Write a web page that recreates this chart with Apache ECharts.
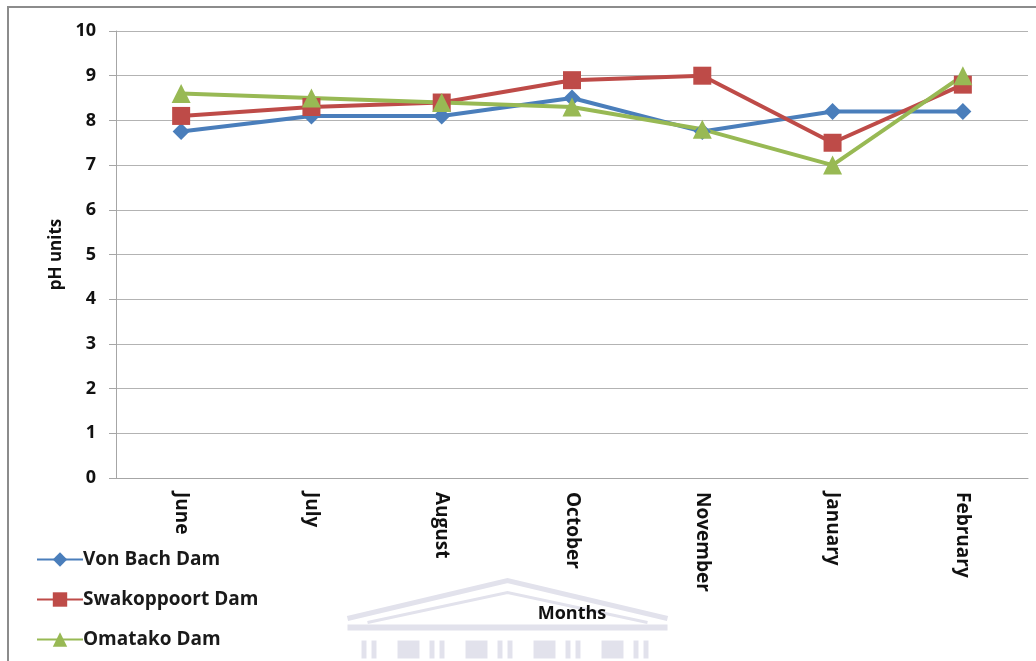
<!DOCTYPE html>
<html>
<head>
<meta charset="utf-8">
<script src="https://cdn.jsdelivr.net/npm/echarts@6/dist/echarts.min.js"></script>
<style>
  html, body { margin: 0; padding: 0; background: #fff; }
  #chart { width: 1036px; height: 661px; }
</style>
</head>
<body>
<div id="chart"></div>
<script>
// Monthly pH readings at three dams
const months = ['June', 'July', 'August', 'October', 'November', 'January', 'February'];
const vonBach = [7.75, 8.1, 8.1, 8.5, 7.75, 8.2, 8.2];
const swakoppoort = [8.1, 8.3, 8.4, 8.9, 9.0, 7.5, 8.8];
const omatako = [8.6, 8.5, 8.4, 8.3, 7.8, 7.0, 9.0];
const yTicks = { min: 0, max: 10, interval: 1 };

const FONT = '"Open Sans", Lato, sans-serif';

function lineSeries(name, data, color, symbol, size) {
  return {
    name, type: 'line', data,
    symbol, symbolSize: size,
    lineStyle: { width: 4, color },
    itemStyle: { color },
    emphasis: { disabled: true },
    z: 3
  };
}

const chart = echarts.init(document.getElementById('chart'), null, { renderer: 'canvas' });
chart.setOption({
  animation: false,
  backgroundColor: '#fff',
  grid: { left: 116, right: 8, top: 31, bottom: 183, containLabel: false },
  legend: {
    orient: 'vertical',
    left: 31, top: 543,
    itemGap: 17, itemWidth: 46, itemHeight: 18,
    textStyle: { fontFamily: FONT, fontWeight: 'bold', fontSize: 19, lineHeight: 23, color: '#1a1a1a', padding: [0, 0, 0, -5] },
    data: ['Von Bach Dam', 'Swakoppoort Dam', 'Omatako Dam']
  },
  xAxis: {
    type: 'category',
    data: months,
    boundaryGap: true,
    axisLine: { show: true, lineStyle: { color: '#a6a6a6', width: 1 } },
    axisTick: { show: false },
    axisLabel: { rotate: -90, margin: 14, fontFamily: FONT, fontWeight: 'bold', fontSize: 19, color: '#111' },
    name: 'Months',
    nameLocation: 'middle',
    nameGap: 127,
    nameTextStyle: { fontFamily: FONT, fontWeight: 'bold', fontSize: 18, color: '#111' }
  },
  yAxis: {
    type: 'value',
    min: yTicks.min, max: yTicks.max, interval: yTicks.interval,
    axisLine: { show: true, lineStyle: { color: '#a6a6a6', width: 1 } },
    axisTick: { show: true, length: 7, lineStyle: { color: '#a6a6a6' } },
    splitLine: { show: true, lineStyle: { color: '#b3b3b3', width: 1 } },
    axisLabel: { margin: 20, fontFamily: FONT, fontWeight: 'bold', fontSize: 18, color: '#111' },
    name: 'pH units',
    nameLocation: 'middle',
    nameGap: 51,
    nameRotate: 90,
    nameTextStyle: { fontFamily: FONT, fontWeight: 'bold', fontSize: 17, color: '#111' }
  },
  series: [
    lineSeries('Von Bach Dam', vonBach, '#4a7ebb', 'diamond', 17),
    lineSeries('Swakoppoort Dam', swakoppoort, '#be4b48', 'rect', 18),
    lineSeries('Omatako Dam', omatako, '#98b954', 'triangle', 19)
  ],
  graphic: [
    // outer frame
    { type: 'polyline', shape: { points: [[8, 661], [8, 7], [1036, 7]] },
      style: { stroke: '#8c8c8c', lineWidth: 2, fill: null }, silent: true },
    // faint crest in the lower centre
    { type: 'group', left: 345, top: 578, silent: true, z: -10, children: [
      { type: 'polyline', shape: { points: [[0, 40], [160, 2], [320, 40]] },
        style: { stroke: '#e2e2ec', lineWidth: 5, fill: null } },
      { type: 'polyline', shape: { points: [[20, 44], [160, 14], [300, 44]] },
        style: { stroke: '#e2e2ec', lineWidth: 3, fill: null } },
      { type: 'rect', shape: { x: 0, y: 46, width: 320, height: 6 }, style: { fill: '#e2e2ec' } },
      { type: 'group', children: [14, 24, 50, 82, 92, 118, 150, 160, 186, 218, 228, 254, 286, 296].map(function (x, i) {
          const wide = (i % 3 === 2);
          return { type: 'rect', shape: { x: x, y: 62, width: wide ? 22 : 5, height: 18 }, style: { fill: '#e2e2ec' } };
        }) }
    ] }
  ]
});
</script>
</body>
</html>
